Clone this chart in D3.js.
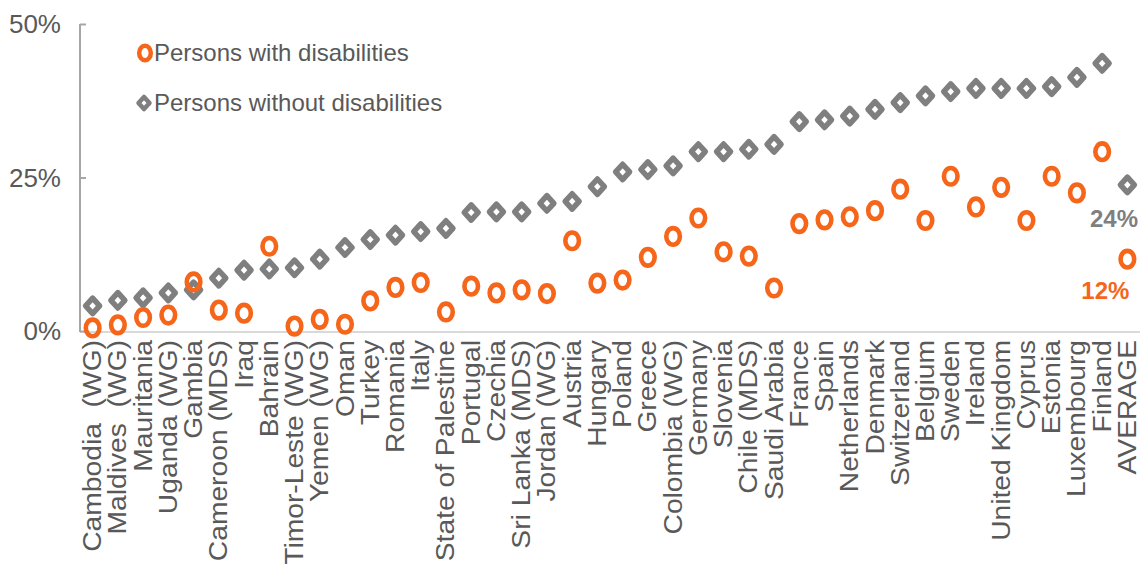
<!DOCTYPE html>
<html>
<head>
<meta charset="utf-8">
<script src="https://cdn.jsdelivr.net/npm/d3@7"></script>
<style>
  body { margin: 0; background: #fff; }
  svg { display: block; font-family: "Liberation Sans", Arial, sans-serif; }
</style>
</head>
<body>
<svg width="1145" height="569"></svg>
<script>
const countries = ['Cambodia  (WG)', 'Maldives  (WG)', 'Mauritania', 'Uganda (WG)', 'Gambia',
  'Cameroon (MDS)', 'Iraq', 'Bahrain', 'Timor-Leste (WG)', 'Yemen (WG)', 'Oman', 'Turkey',
  'Romania', 'Italy', 'State of Palestine', 'Portugal', 'Czechia', 'Sri Lanka (MDS)',
  'Jordan (WG)', 'Austria', 'Hungary', 'Poland', 'Greece', 'Colombia (WG)', 'Germany',
  'Slovenia', 'Chile (MDS)', 'Saudi Arabia', 'France', 'Spain', 'Netherlands', 'Denmark',
  'Switzerland', 'Belgium', 'Sweden', 'Ireland', 'United Kingdom', 'Cyprus', 'Estonia',
  'Luxembourg', 'Finland', 'AVERAGE'];

const withDis = [0.5, 1.0, 2.2, 2.6, 8.0, 3.4, 2.9, 13.8, 0.8, 1.9, 1.1, 4.9, 7.1, 7.9, 3.1,
  7.3, 6.2, 6.7, 6.1, 14.7, 7.8, 8.3, 12.0, 15.4, 18.4, 12.9, 12.2, 7.0, 17.5, 18.1, 18.6,
  19.6, 23.1, 18.0, 25.2, 20.2, 23.4, 18.0, 25.2, 22.5, 29.2, 11.7];

const withoutDis = [4.1, 5.0, 5.4, 6.2, 6.7, 8.6, 9.9, 10.1, 10.3, 11.7, 13.6, 14.9, 15.6,
  16.2, 16.7, 19.3, 19.4, 19.4, 20.8, 21.1, 23.5, 25.9, 26.3, 26.9, 29.2, 29.2, 29.6, 30.4,
  34.1, 34.4, 35.0, 36.1, 37.2, 38.3, 39.0, 39.5, 39.5, 39.5, 39.8, 41.3, 43.6, 23.8];

const yTicks = [0, 25, 50];
const legendLabels = ['Persons with disabilities', 'Persons without disabilities'];
const avgLabels = ['24%', '12%'];

const orange = '#f5661a', grey = '#7f7f7f', textCol = '#595959';

const svg = d3.select('svg');
const plotLeft = 80, plotRight = 1140, plotTop = 24, plotBottom = 331;

const x = d3.scaleBand().domain(countries).range([plotLeft, plotRight]);
const y = d3.scaleLinear().domain([0, 50]).range([plotBottom, plotTop]);
const cx = d => x(d) + x.bandwidth() / 2;

// x axis line
svg.append('line')
  .attr('x1', plotLeft).attr('x2', plotRight)
  .attr('y1', plotBottom + 1).attr('y2', plotBottom + 1)
  .attr('stroke', '#d9d9d9').attr('stroke-width', 2);

// y axis with inside ticks
const yAxis = svg.append('g')
  .attr('transform', 'translate(' + plotLeft + ',0)')
  .call(d3.axisRight(y).tickValues(yTicks).tickSize(6).tickFormat(''));
yAxis.select('.domain').attr('stroke', '#a6a6a6').attr('stroke-width', 2)
  .attr('d', 'M0,' + y(50) + 'V' + (plotBottom + 1));
yAxis.selectAll('.tick line').attr('stroke', '#a6a6a6').attr('stroke-width', 2);

svg.append('g').selectAll('text')
  .data(yTicks).enter().append('text')
  .attr('x', 61).attr('y', d => y(d))
  .attr('dy', '0.35em')
  .attr('text-anchor', 'end')
  .attr('font-size', 26).attr('fill', textCol)
  .text(d => d + '%');

// category labels (the source is stretched vertically, so stretch along the text)
svg.append('g').selectAll('text')
  .data(countries).enter().append('text')
  .attr('transform', d => 'translate(' + (cx(d) + 8.5) + ',340) rotate(-90) scale(1.13,1)')
  .attr('text-anchor', 'end')
  .attr('font-size', 25).attr('fill', textCol)
  .style('white-space', 'pre')
  .text(d => d);

function diamond(s) {
  return 'M0,' + (-s * 1.1) + 'L' + s + ',0L0,' + (s * 1.1) + 'L' + (-s) + ',0Z';
}

// without disabilities
svg.append('g').selectAll('path')
  .data(withoutDis).enter().append('path')
  .attr('transform', (d, i) => 'translate(' + cx(countries[i]) + ',' + y(d) + ')')
  .attr('d', diamond(7))
  .attr('fill', '#fff').attr('stroke', grey).attr('stroke-width', 5.5)
  .attr('stroke-linejoin', 'round');

// with disabilities
svg.append('g').selectAll('ellipse')
  .data(withDis).enter().append('ellipse')
  .attr('cx', (d, i) => cx(countries[i]))
  .attr('cy', d => y(d))
  .attr('rx', 6.8).attr('ry', 8.3)
  .attr('fill', 'none').attr('stroke', orange).attr('stroke-width', 4.6);

// average labels
const avgX = cx('AVERAGE');
svg.append('text').attr('x', 1138).attr('y', y(withoutDis[41]) + 42)
  .attr('text-anchor', 'end').attr('font-size', 24).attr('font-weight', 'bold')
  .attr('fill', grey).text(avgLabels[0]);
svg.append('text').attr('x', avgX + 2).attr('y', y(withDis[41]) + 40)
  .attr('text-anchor', 'end').attr('font-size', 24).attr('font-weight', 'bold')
  .attr('fill', orange).text(avgLabels[1]);

// legend
const legend = svg.append('g');
legend.append('ellipse').attr('cx', 145).attr('cy', 53).attr('rx', 5.8).attr('ry', 7.2)
  .attr('fill', 'none').attr('stroke', orange).attr('stroke-width', 4.5);
legend.append('path').attr('transform', 'translate(144,103)').attr('d', diamond(5.5))
  .attr('fill', '#fff').attr('stroke', grey).attr('stroke-width', 4.5)
  .attr('stroke-linejoin', 'round');
legend.selectAll('text').data(legendLabels).enter().append('text')
  .attr('x', 154).attr('y', (d, i) => 53 + i * 50)
  .attr('dy', '0.35em')
  .attr('font-size', 24).attr('fill', textCol)
  .text(d => d);
</script>
</body>
</html>
